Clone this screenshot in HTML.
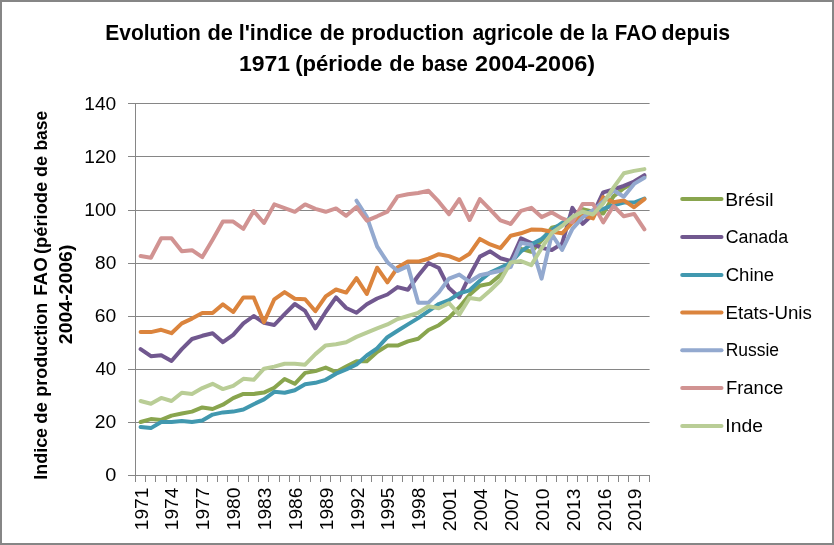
<!DOCTYPE html>
<html lang="fr"><head><meta charset="utf-8">
<title>Evolution de l'indice de production agricole de la FAO depuis 1971</title>
<style>html,body{margin:0;padding:0;background:#fff;}body{width:834px;height:545px;overflow:hidden;}svg{display:block;}text{font-family:'Liberation Sans', sans-serif;fill:#000;}</style>
</head><body>
<svg width="834" height="545" viewBox="0 0 834 545">
<rect x="0" y="0" width="834" height="545" fill="#fff"/>
<rect x="1" y="1" width="832" height="543" fill="none" stroke="#868686" stroke-width="2"/>
<g stroke="#868686" stroke-width="1" fill="none" shape-rendering="crispEdges">
<line x1="135.5" y1="422.5" x2="649.6" y2="422.5" shape-rendering="auto"/>
<line x1="135.5" y1="369.5" x2="649.6" y2="369.5" shape-rendering="auto"/>
<line x1="135.5" y1="316.5" x2="649.6" y2="316.5" shape-rendering="auto"/>
<line x1="135.5" y1="263.5" x2="649.6" y2="263.5" shape-rendering="auto"/>
<line x1="135.5" y1="210.5" x2="649.6" y2="210.5" shape-rendering="auto"/>
<line x1="135.5" y1="156.5" x2="649.6" y2="156.5" shape-rendering="auto"/>
<line x1="135.5" y1="103.5" x2="649.6" y2="103.5" shape-rendering="auto"/>
<line x1="135.5" y1="103.0" x2="135.5" y2="476.0"/>
<line x1="135.5" y1="475.5" x2="650.0" y2="475.5"/>
<line x1="128.0" y1="475.5" x2="135.5" y2="475.5"/>
<line x1="128.0" y1="422.5" x2="135.5" y2="422.5"/>
<line x1="128.0" y1="369.5" x2="135.5" y2="369.5"/>
<line x1="128.0" y1="316.5" x2="135.5" y2="316.5"/>
<line x1="128.0" y1="263.5" x2="135.5" y2="263.5"/>
<line x1="128.0" y1="210.5" x2="135.5" y2="210.5"/>
<line x1="128.0" y1="156.5" x2="135.5" y2="156.5"/>
<line x1="128.0" y1="103.5" x2="135.5" y2="103.5"/>
<line x1="135.5" y1="475.5" x2="135.5" y2="482.0"/>
<line x1="145.5" y1="475.5" x2="145.5" y2="482.0"/>
<line x1="155.5" y1="475.5" x2="155.5" y2="482.0"/>
<line x1="166.5" y1="475.5" x2="166.5" y2="482.0"/>
<line x1="176.5" y1="475.5" x2="176.5" y2="482.0"/>
<line x1="186.5" y1="475.5" x2="186.5" y2="482.0"/>
<line x1="196.5" y1="475.5" x2="196.5" y2="482.0"/>
<line x1="207.5" y1="475.5" x2="207.5" y2="482.0"/>
<line x1="217.5" y1="475.5" x2="217.5" y2="482.0"/>
<line x1="227.5" y1="475.5" x2="227.5" y2="482.0"/>
<line x1="238.5" y1="475.5" x2="238.5" y2="482.0"/>
<line x1="248.5" y1="475.5" x2="248.5" y2="482.0"/>
<line x1="258.5" y1="475.5" x2="258.5" y2="482.0"/>
<line x1="268.5" y1="475.5" x2="268.5" y2="482.0"/>
<line x1="279.5" y1="475.5" x2="279.5" y2="482.0"/>
<line x1="289.5" y1="475.5" x2="289.5" y2="482.0"/>
<line x1="299.5" y1="475.5" x2="299.5" y2="482.0"/>
<line x1="310.5" y1="475.5" x2="310.5" y2="482.0"/>
<line x1="320.5" y1="475.5" x2="320.5" y2="482.0"/>
<line x1="330.5" y1="475.5" x2="330.5" y2="482.0"/>
<line x1="340.5" y1="475.5" x2="340.5" y2="482.0"/>
<line x1="351.5" y1="475.5" x2="351.5" y2="482.0"/>
<line x1="361.5" y1="475.5" x2="361.5" y2="482.0"/>
<line x1="371.5" y1="475.5" x2="371.5" y2="482.0"/>
<line x1="382.5" y1="475.5" x2="382.5" y2="482.0"/>
<line x1="392.5" y1="475.5" x2="392.5" y2="482.0"/>
<line x1="402.5" y1="475.5" x2="402.5" y2="482.0"/>
<line x1="412.5" y1="475.5" x2="412.5" y2="482.0"/>
<line x1="423.5" y1="475.5" x2="423.5" y2="482.0"/>
<line x1="433.5" y1="475.5" x2="433.5" y2="482.0"/>
<line x1="443.5" y1="475.5" x2="443.5" y2="482.0"/>
<line x1="453.5" y1="475.5" x2="453.5" y2="482.0"/>
<line x1="464.5" y1="475.5" x2="464.5" y2="482.0"/>
<line x1="474.5" y1="475.5" x2="474.5" y2="482.0"/>
<line x1="484.5" y1="475.5" x2="484.5" y2="482.0"/>
<line x1="495.5" y1="475.5" x2="495.5" y2="482.0"/>
<line x1="505.5" y1="475.5" x2="505.5" y2="482.0"/>
<line x1="515.5" y1="475.5" x2="515.5" y2="482.0"/>
<line x1="525.5" y1="475.5" x2="525.5" y2="482.0"/>
<line x1="536.5" y1="475.5" x2="536.5" y2="482.0"/>
<line x1="546.5" y1="475.5" x2="546.5" y2="482.0"/>
<line x1="556.5" y1="475.5" x2="556.5" y2="482.0"/>
<line x1="567.5" y1="475.5" x2="567.5" y2="482.0"/>
<line x1="577.5" y1="475.5" x2="577.5" y2="482.0"/>
<line x1="587.5" y1="475.5" x2="587.5" y2="482.0"/>
<line x1="597.5" y1="475.5" x2="597.5" y2="482.0"/>
<line x1="608.5" y1="475.5" x2="608.5" y2="482.0"/>
<line x1="618.5" y1="475.5" x2="618.5" y2="482.0"/>
<line x1="628.5" y1="475.5" x2="628.5" y2="482.0"/>
<line x1="639.5" y1="475.5" x2="639.5" y2="482.0"/>
<line x1="649.5" y1="475.5" x2="649.5" y2="482.0"/>
</g>
<g fill="none" stroke-width="4.0" stroke-linecap="round" stroke-linejoin="round">
<polyline stroke="#89A54E" points="140.6,422.0 150.9,419.1 161.2,419.9 171.5,415.6 181.8,413.5 192.0,411.6 202.3,407.4 212.6,409.0 222.9,404.7 233.2,398.1 243.4,393.9 253.7,393.9 264.0,392.6 274.3,387.8 284.6,379.0 294.8,383.8 305.1,372.9 315.4,371.1 325.7,367.6 336.0,372.1 346.2,366.6 356.5,361.3 366.8,361.3 377.1,352.0 387.4,345.6 397.6,345.6 407.9,341.4 418.2,338.8 428.5,330.0 438.8,325.2 449.0,317.6 459.3,307.2 469.6,294.8 479.9,285.8 490.2,283.6 500.4,274.9 510.7,263.8 521.0,248.9 531.3,251.8 541.6,240.4 551.8,227.7 562.1,225.1 572.4,218.4 582.7,209.2 593.0,211.8 603.2,213.4 613.5,196.4 623.8,188.2 634.1,182.6 644.4,176.5"/>
<polyline stroke="#71588F" points="140.6,349.1 150.9,356.2 161.2,355.2 171.5,361.0 181.8,349.1 192.0,339.0 202.3,335.8 212.6,333.2 222.9,342.2 233.2,334.8 243.4,323.4 253.7,316.0 264.0,322.9 274.3,325.0 284.6,314.1 294.8,304.0 305.1,310.9 315.4,328.4 325.7,312.0 336.0,297.4 346.2,308.0 356.5,312.8 366.8,304.3 377.1,298.5 387.4,294.5 397.6,287.1 407.9,289.7 418.2,275.7 428.5,263.0 438.8,268.0 449.0,288.1 459.3,297.4 469.6,275.7 479.9,256.6 490.2,251.3 500.4,258.2 510.7,261.1 521.0,238.3 531.3,243.1 541.6,247.9 551.8,250.0 562.1,243.6 572.4,207.8 582.7,223.8 593.0,214.2 603.2,192.4 613.5,189.5 623.8,185.8 634.1,181.5 644.4,175.2"/>
<polyline stroke="#4198AF" points="140.6,427.0 150.9,428.1 161.2,422.0 171.5,422.0 181.8,420.9 192.0,422.0 202.3,420.4 212.6,414.6 222.9,412.4 233.2,411.6 243.4,409.5 253.7,404.2 264.0,399.4 274.3,391.8 284.6,392.8 294.8,390.2 305.1,384.3 315.4,382.8 325.7,379.8 336.0,373.7 346.2,369.5 356.5,364.5 366.8,355.5 377.1,348.3 387.4,337.2 397.6,330.8 407.9,324.4 418.2,318.1 428.5,311.2 438.8,304.0 449.0,300.1 459.3,293.4 469.6,290.3 479.9,280.7 490.2,272.5 500.4,267.7 510.7,262.7 521.0,251.3 531.3,244.4 541.6,239.1 551.8,230.1 562.1,223.0 572.4,217.1 582.7,213.2 593.0,211.6 603.2,208.9 613.5,205.2 623.8,202.5 634.1,202.5 644.4,198.5"/>
<polyline stroke="#DB843D" points="140.6,332.1 150.9,332.1 161.2,329.8 171.5,333.2 181.8,323.4 192.0,318.6 202.3,313.1 212.6,313.1 222.9,304.3 233.2,312.0 243.4,297.4 253.7,297.4 264.0,322.3 274.3,299.3 284.6,292.1 294.8,298.7 305.1,299.3 315.4,311.2 325.7,296.4 336.0,289.5 346.2,292.6 356.5,278.1 366.8,294.0 377.1,267.7 387.4,282.3 397.6,267.5 407.9,261.6 418.2,261.6 428.5,258.7 438.8,254.2 449.0,256.1 459.3,260.1 469.6,253.7 479.9,238.9 490.2,244.4 500.4,248.1 510.7,235.7 521.0,233.3 531.3,229.6 541.6,229.8 551.8,231.7 562.1,233.3 572.4,222.7 582.7,215.3 593.0,218.4 603.2,197.2 613.5,202.3 623.8,200.4 634.1,207.3 644.4,199.1"/>
<polyline stroke="#93A9CF" points="356.5,200.7 366.8,216.9 377.1,246.3 387.4,262.2 397.6,270.9 407.9,266.1 418.2,302.7 428.5,302.7 438.8,292.4 449.0,278.6 459.3,274.6 469.6,281.8 479.9,275.2 490.2,273.0 500.4,270.7 510.7,266.9 521.0,242.8 531.3,244.7 541.6,278.6 551.8,234.3 562.1,250.0 572.4,228.8 582.7,217.4 593.0,210.2 603.2,201.5 613.5,190.3 623.8,196.7 634.1,183.9 644.4,177.8"/>
<polyline stroke="#D19392" points="140.6,256.1 150.9,257.7 161.2,238.3 171.5,238.3 181.8,251.3 192.0,250.2 202.3,257.1 212.6,239.7 222.9,221.6 233.2,221.6 243.4,228.8 253.7,211.0 264.0,223.0 274.3,204.4 284.6,208.1 294.8,211.8 305.1,204.4 315.4,208.9 325.7,211.8 336.0,208.4 346.2,215.8 356.5,207.0 366.8,220.6 377.1,216.3 387.4,211.6 397.6,196.4 407.9,194.3 418.2,193.0 428.5,190.8 438.8,201.7 449.0,214.2 459.3,199.1 469.6,220.0 479.9,199.1 490.2,209.7 500.4,220.3 510.7,224.0 521.0,210.8 531.3,207.8 541.6,217.1 551.8,212.4 562.1,218.4 572.4,222.4 582.7,203.9 593.0,203.9 603.2,222.4 613.5,206.0 623.8,216.3 634.1,213.9 644.4,229.3"/>
<polyline stroke="#B9CD96" points="140.6,401.0 150.9,403.7 161.2,397.9 171.5,401.0 181.8,392.8 192.0,393.9 202.3,388.1 212.6,383.8 222.9,389.1 233.2,385.9 243.4,378.8 253.7,379.8 264.0,368.7 274.3,366.6 284.6,363.7 294.8,363.7 305.1,364.7 315.4,354.1 325.7,345.4 336.0,344.3 346.2,342.2 356.5,336.9 366.8,332.7 377.1,328.4 387.4,324.4 397.6,319.1 407.9,316.0 418.2,312.8 428.5,306.2 438.8,308.3 449.0,303.2 459.3,314.6 469.6,297.9 479.9,299.5 490.2,290.5 500.4,280.5 510.7,262.4 521.0,261.1 531.3,265.1 541.6,248.1 551.8,233.0 562.1,225.9 572.4,216.9 582.7,211.6 593.0,214.5 603.2,203.3 613.5,187.6 623.8,173.3 634.1,170.9 644.4,169.1"/>
</g>
<g font-weight="bold" font-size="21.6">
<text y="40.4"><tspan x="105.24" textLength="95.70" lengthAdjust="spacingAndGlyphs">Evolution</tspan> <tspan x="207.49" textLength="25.42" lengthAdjust="spacingAndGlyphs">de</tspan> <tspan x="238.69" textLength="73.86" lengthAdjust="spacingAndGlyphs">l'indice</tspan> <tspan x="319.81" textLength="24.88" lengthAdjust="spacingAndGlyphs">de</tspan> <tspan x="351.20" textLength="112.85" lengthAdjust="spacingAndGlyphs">production</tspan> <tspan x="472.42" textLength="80.68" lengthAdjust="spacingAndGlyphs">agricole</tspan> <tspan x="559.49" textLength="25.42" lengthAdjust="spacingAndGlyphs">de</tspan> <tspan x="590.91" textLength="16.82" lengthAdjust="spacingAndGlyphs">la</tspan> <tspan x="614.77" textLength="42.17" lengthAdjust="spacingAndGlyphs">FAO</tspan> <tspan x="661.61" textLength="68.57" lengthAdjust="spacingAndGlyphs">depuis</tspan></text>
<text y="70.7"><tspan x="238.91" textLength="51.18" lengthAdjust="spacingAndGlyphs">1971</tspan> <tspan x="295.18" textLength="87.23" lengthAdjust="spacingAndGlyphs">(période</tspan> <tspan x="389.39" textLength="25.42" lengthAdjust="spacingAndGlyphs">de</tspan> <tspan x="421.48" textLength="46.39" lengthAdjust="spacingAndGlyphs">base</tspan> <tspan x="475.13" textLength="119.93" lengthAdjust="spacingAndGlyphs">2004-2006)</tspan></text>
</g>
<g font-size="18.0">
<text x="105.21" y="481.4" textLength="11.09" lengthAdjust="spacingAndGlyphs">0</text>
<text x="94.83" y="428.1" textLength="21.46" lengthAdjust="spacingAndGlyphs">20</text>
<text x="95.49" y="374.8" textLength="20.78" lengthAdjust="spacingAndGlyphs">40</text>
<text x="94.83" y="321.6" textLength="21.46" lengthAdjust="spacingAndGlyphs">60</text>
<text x="95.05" y="268.8" textLength="21.23" lengthAdjust="spacingAndGlyphs">80</text>
<text x="84.31" y="216.2" textLength="31.99" lengthAdjust="spacingAndGlyphs">100</text>
<text x="84.31" y="163.2" textLength="31.99" lengthAdjust="spacingAndGlyphs">120</text>
<text x="84.31" y="109.9" textLength="31.99" lengthAdjust="spacingAndGlyphs">140</text>
</g>
<g font-size="18.0">
<text transform="translate(147.80,530.19) rotate(-90)" textLength="42.59" lengthAdjust="spacingAndGlyphs">1971</text>
<text transform="translate(177.80,530.19) rotate(-90)" textLength="42.59" lengthAdjust="spacingAndGlyphs">1974</text>
<text transform="translate(208.80,530.19) rotate(-90)" textLength="42.59" lengthAdjust="spacingAndGlyphs">1977</text>
<text transform="translate(239.80,530.19) rotate(-90)" textLength="42.59" lengthAdjust="spacingAndGlyphs">1980</text>
<text transform="translate(270.80,530.19) rotate(-90)" textLength="42.59" lengthAdjust="spacingAndGlyphs">1983</text>
<text transform="translate(301.80,530.19) rotate(-90)" textLength="42.59" lengthAdjust="spacingAndGlyphs">1986</text>
<text transform="translate(332.80,530.19) rotate(-90)" textLength="42.59" lengthAdjust="spacingAndGlyphs">1989</text>
<text transform="translate(363.80,530.19) rotate(-90)" textLength="42.59" lengthAdjust="spacingAndGlyphs">1992</text>
<text transform="translate(393.80,530.19) rotate(-90)" textLength="42.59" lengthAdjust="spacingAndGlyphs">1995</text>
<text transform="translate(424.80,530.19) rotate(-90)" textLength="42.59" lengthAdjust="spacingAndGlyphs">1998</text>
<text transform="translate(455.80,531.19) rotate(-90)" textLength="42.59" lengthAdjust="spacingAndGlyphs">2001</text>
<text transform="translate(486.80,531.19) rotate(-90)" textLength="42.59" lengthAdjust="spacingAndGlyphs">2004</text>
<text transform="translate(517.80,531.19) rotate(-90)" textLength="42.59" lengthAdjust="spacingAndGlyphs">2007</text>
<text transform="translate(548.80,531.19) rotate(-90)" textLength="42.59" lengthAdjust="spacingAndGlyphs">2010</text>
<text transform="translate(579.80,531.19) rotate(-90)" textLength="42.59" lengthAdjust="spacingAndGlyphs">2013</text>
<text transform="translate(610.80,531.19) rotate(-90)" textLength="42.59" lengthAdjust="spacingAndGlyphs">2016</text>
<text transform="translate(640.80,531.19) rotate(-90)" textLength="42.59" lengthAdjust="spacingAndGlyphs">2019</text>
</g>
<g font-weight="bold" font-size="18.0">
<text transform="translate(46.90,0) rotate(-90)" y="0"><tspan x="-479.80" textLength="51.91" lengthAdjust="spacingAndGlyphs">Indice</tspan> <tspan x="-423.83" textLength="21.77" lengthAdjust="spacingAndGlyphs">de</tspan> <tspan x="-396.80" textLength="93.98" lengthAdjust="spacingAndGlyphs">production</tspan> <tspan x="-295.85" textLength="38.71" lengthAdjust="spacingAndGlyphs">FAO</tspan> <tspan x="-254.02" textLength="72.24" lengthAdjust="spacingAndGlyphs">(période</tspan> <tspan x="-177.00" textLength="21.12" lengthAdjust="spacingAndGlyphs">de</tspan> <tspan x="-150.56" textLength="39.67" lengthAdjust="spacingAndGlyphs">base</tspan></text>
<text transform="translate(72.10,0) rotate(-90)" y="0"><tspan x="-344.15" textLength="99.50" lengthAdjust="spacingAndGlyphs">2004-2006)</tspan></text>
</g>
<g font-size="18.0">
<line x1="682.2" y1="199.0" x2="721.5" y2="199.0" stroke="#89A54E" stroke-width="4.0" stroke-linecap="round"/>
<text x="725.19" y="205.5" textLength="48.41" lengthAdjust="spacingAndGlyphs">Brésil</text>
<line x1="682.2" y1="237.0" x2="721.5" y2="237.0" stroke="#71588F" stroke-width="4.0" stroke-linecap="round"/>
<text x="725.71" y="243.0" textLength="62.35" lengthAdjust="spacingAndGlyphs">Canada</text>
<line x1="682.2" y1="275.0" x2="721.5" y2="275.0" stroke="#4198AF" stroke-width="4.0" stroke-linecap="round"/>
<text x="725.67" y="281.0" textLength="48.49" lengthAdjust="spacingAndGlyphs">Chine</text>
<line x1="682.2" y1="312.6" x2="721.5" y2="312.6" stroke="#DB843D" stroke-width="4.0" stroke-linecap="round"/>
<text x="725.54" y="318.6" textLength="86.31" lengthAdjust="spacingAndGlyphs">Etats-Unis</text>
<line x1="682.2" y1="350.2" x2="721.5" y2="350.2" stroke="#93A9CF" stroke-width="4.0" stroke-linecap="round"/>
<text x="725.64" y="355.8" textLength="53.36" lengthAdjust="spacingAndGlyphs">Russie</text>
<line x1="682.2" y1="388.0" x2="721.5" y2="388.0" stroke="#D19392" stroke-width="4.0" stroke-linecap="round"/>
<text x="725.97" y="393.7" textLength="57.39" lengthAdjust="spacingAndGlyphs">France</text>
<line x1="682.2" y1="426.0" x2="721.5" y2="426.0" stroke="#B9CD96" stroke-width="4.0" stroke-linecap="round"/>
<text x="725.28" y="432.0" textLength="37.63" lengthAdjust="spacingAndGlyphs">Inde</text>
</g>
</svg></body></html>
